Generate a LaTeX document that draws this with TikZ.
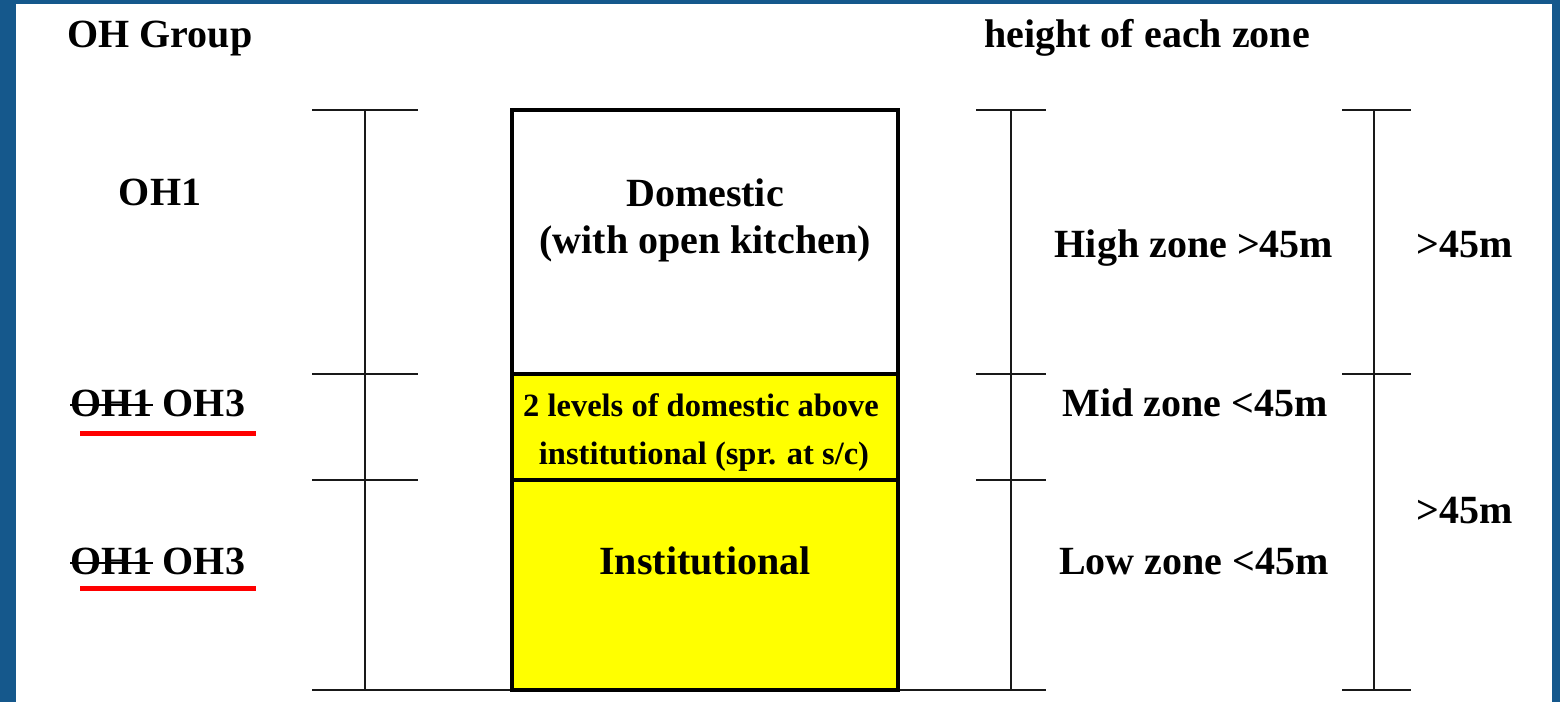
\documentclass[tikz,border=0pt]{standalone}
\usepackage{fontspec}
\setmainfont{Liberation Serif}
\definecolor{frameblue}{RGB}{21,88,140}
\definecolor{zoneyellow}{RGB}{255,255,0}
\begin{document}
\begin{tikzpicture}[x=1pt,y=-1pt,
  lbl/.style={font=\fontsize{40}{48}\selectfont\bfseries, inner sep=0pt, anchor=base},
  sml/.style={font=\fontsize{32.5}{36}\selectfont\bfseries, inner sep=0pt, anchor=base},
  tickline/.style={line width=2.4pt, black!90, line cap=rect},
  strike/.style={line width=2pt, black},
  zonebox/.style={draw=black, line width=3.5pt, inner sep=0pt, outer sep=0pt, minimum width=386pt, anchor=north west},
  redline/.style={red, line width=5pt}]
\fill[frameblue] (0,0) rectangle (1560,702);
\fill[white] (16,4) rectangle (1552,702);
\useasboundingbox (0,0) rectangle (1560,702);

% headings
\node[lbl] (ohgroup) at (160,47) {OH Group};
\node[lbl] (heighthead) at (1147,47) {height of each zone};

% ground line
\coordinate (gl) at (313,690);
\coordinate (gr) at (1045,690);
\draw[tickline] (gl) -- (gr);

% left scale
\coordinate (la) at (365,110);
\coordinate (lb) at (365,690);
\draw[tickline] (la) -- (lb);
\foreach \yy in {110,374,480} {\draw[tickline] (313,\yy) -- (417,\yy);}

% middle scale
\coordinate (ma) at (1011,110);
\coordinate (mb) at (1011,690);
\draw[tickline] (ma) -- (mb);
\foreach \yy in {110,374,480} {\draw[tickline] (977,\yy) -- (1045,\yy);}

% right scale
\coordinate (ra) at (1374,110);
\coordinate (rb) at (1374,690);
\draw[tickline] (ra) -- (rb);
\foreach \yy in {110,374,690} {\draw[tickline] (1343,\yy) -- (1410,\yy);}

% building
\node[zonebox, fill=white, minimum height=264pt] (dom) at (512,110) {};
\node[zonebox, fill=zoneyellow, minimum height=106pt] (midz) at (512,374) {};
\node[zonebox, fill=zoneyellow, minimum height=210pt] (inst) at (512,480) {};

\node[lbl] (domt1) at (705,206) {Domestic};
\node[lbl] (domt2) at (705,253) {(with open kitchen)};
\node[sml] (midt1) at (701,416) {2 levels of domestic above};
\node[sml] (midt2) at (704,464) {institutional (spr. at s/c)};
\node[lbl] (instt) at (705,574) {Institutional};

% OH groups
\node[lbl] (oh1) at (160,205) {OH1};
\node[lbl, anchor=base west] (oldA) at (70,416) {OH1};
\node[lbl, anchor=base west] (newA) at ([xshift=10pt]oldA.base east) {OH3};
\draw[strike] ([yshift=11pt]oldA.base west) -- ([yshift=11pt]oldA.base east);
\node[lbl, anchor=base west] (oldB) at (70,574) {OH1};
\node[lbl, anchor=base west] (newB) at ([xshift=10pt]oldB.base east) {OH3};
\draw[strike] ([yshift=11pt]oldB.base west) -- ([yshift=11pt]oldB.base east);
\coordinate (ulA1) at (80,433);
\coordinate (ulA2) at (256,433);
\coordinate (ulB1) at (80,588);
\coordinate (ulB2) at (256,588);
\draw[redline] (ulA1) -- (ulA2);
\draw[redline] (ulB1) -- (ulB2);

% zone heights
\node[lbl] (high) at (1194,257) {High zone >45m};
\node[lbl] (mid) at (1195,416) {Mid zone <45m};
\node[lbl] (low) at (1194,574) {Low zone <45m};
\node[lbl] (tot1) at (1465,257) {>45m};
\node[lbl] (tot2) at (1465,523) {>45m};
\end{tikzpicture}
\end{document}
